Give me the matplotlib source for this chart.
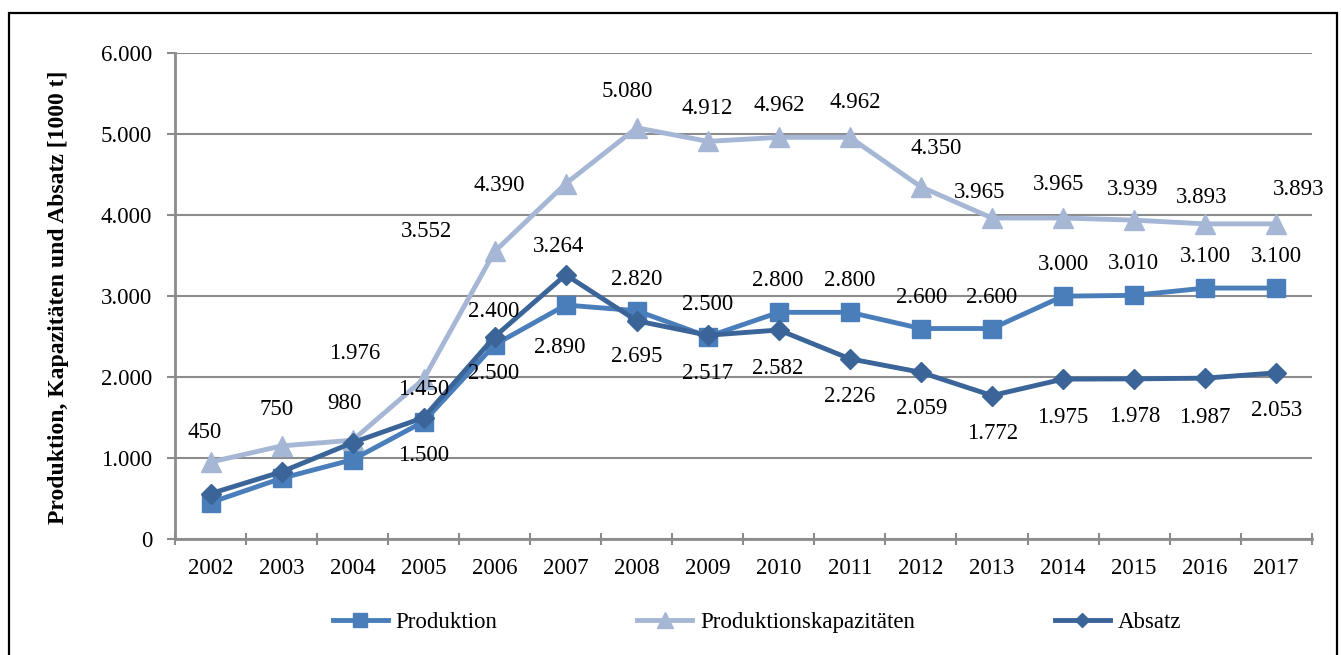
import matplotlib
matplotlib.use('Agg')
import matplotlib.pyplot as plt
from matplotlib.patches import Rectangle
from matplotlib.ticker import FuncFormatter, FixedLocator

# Data (1000 t)
years = [str(y) for y in range(2002, 2018)]
produktion = [450, 750, 980, 1450, 2400, 2890, 2820, 2500, 2800, 2800, 2600, 2600, 3000, 3010, 3100, 3100]
kapazitaet = [950, 1150, 1220, 1976, 3552, 4390, 5080, 4912, 4962, 4962, 4350, 3965, 3965, 3939, 3893, 3893]
absatz = [560, 830, 1190, 1500, 2500, 3264, 2695, 2517, 2582, 2226, 2059, 1772, 1975, 1978, 1987, 2053]

# label offsets in pixels (dx, dy) from each point, None = no label
prod_off = [(-6, 72), (-5, 71), (-8, 58), (0, 34), (-1, 35), (-6, -40), (0, 33), (0, 34),
            (-1, 34), (0, 34), (1, 33), (0, 33), (0, 34), (-1, 34), (0, 34), (0, 34)]
kap_off = [None, None, None, (-69, 28), (-68, 22), (-66, 0), (-10, 38), (-1, 35),
           (0, 34), (5, 37), (15, 40), (-12, 28), (-4, 36), (-1, 33), (-4, 28), (22, 36)]
abs_off = [None, None, None, (0, -36), (-1, -35), (-7, 30), (0, -34), (0, -36),
           (-1, -37), (0, -36), (1, -34), (1, -36), (0, -36), (1, -36), (0, -37), (0, -36)]


def de_fmt(v, pos=None):
    return f"{int(v):,}".replace(',', '.')


plt.rcParams['font.family'] = ['Liberation Serif', 'DejaVu Serif']
fs = 16.5

fig = plt.figure(figsize=(13.41, 6.55), dpi=100)
ax = fig.add_axes([175 / 1341, 1 - 539 / 655, (1311.7 - 175) / 1341, (539 - 53.3) / 655])

c_prod = '#4a7ebb'
c_kap = '#a6b7d6'
c_abs = '#3b6598'

x = list(range(len(years)))
l1, = ax.plot(x, produktion, color=c_prod, lw=3.5, marker='s', ms=13, zorder=3, label='Produktion')
l2, = ax.plot(x, kapazitaet, color=c_kap, lw=3.5, marker='^', ms=15, zorder=3, label='Produktionskapazitäten')
l3, = ax.plot(x, absatz, color=c_abs, lw=3.5, marker='D', ms=10, zorder=4, label='Absatz')

for vals, offs in [(produktion, prod_off), (kapazitaet, kap_off), (absatz, abs_off)]:
    for i, v in enumerate(vals):
        if offs[i] is None:
            continue
        dx, dy = offs[i]
        ax.annotate(de_fmt(v), (i, v), xytext=(dx, dy - 7.5), textcoords='offset pixels',
                    ha='center', va='baseline', fontsize=fs, zorder=5)

ax.set_xlim(-0.5, 15.5)
ax.set_ylim(0, 6000)
ax.set_yticks(range(0, 6001, 1000))
ax.yaxis.set_major_formatter(FuncFormatter(de_fmt))

ax.xaxis.set_major_locator(FixedLocator([i - 0.5 for i in range(17)]))
ax.xaxis.set_minor_locator(FixedLocator(x))
ax.set_xticklabels([], minor=False)
ax.set_xticklabels(years, minor=True)
ax.tick_params(axis='x', which='major', direction='inout', length=9, width=1.5, color='#8c8c8c')
ax.tick_params(axis='x', which='minor', length=0, pad=14, labelsize=fs)
ax.tick_params(axis='y', direction='out', length=6, width=1.5, color='#8c8c8c', pad=10.5, labelsize=fs)

ax.yaxis.grid(True, color='#8c8c8c', lw=1.5)
ax.set_axisbelow(True)
for s in ['top', 'right']:
    ax.spines[s].set_visible(False)
for s in ['left', 'bottom']:
    ax.spines[s].set_color('#8c8c8c')
    ax.spines[s].set_linewidth(2)

fig.text(59 / 1341, 1 - 297 / 655, 'Produktion, Kapazitäten und Absatz [1000 t]',
         rotation=90, ha='center', va='center', fontsize=17, fontweight='bold')

fig.legend([l1, l2, l3], [l.get_label() for l in (l1, l2, l3)], loc='center',
           bbox_to_anchor=(757 / 1341, 1 - 622 / 655), ncol=3, frameon=False,
           handlelength=2.4, handletextpad=0.35, columnspacing=6.1, fontsize=fs,
           markerscale=0.75, numpoints=1)

# frame around the whole chart (bottom edge is cut off in the original)
fig.add_artist(Rectangle((9 / 1341, -0.05), (1337 - 9) / 1341, 1.05 - 13 / 655,
                         transform=fig.transFigure, fill=False, edgecolor='black', lw=1.6))

fig.savefig('out.png', dpi=100)
